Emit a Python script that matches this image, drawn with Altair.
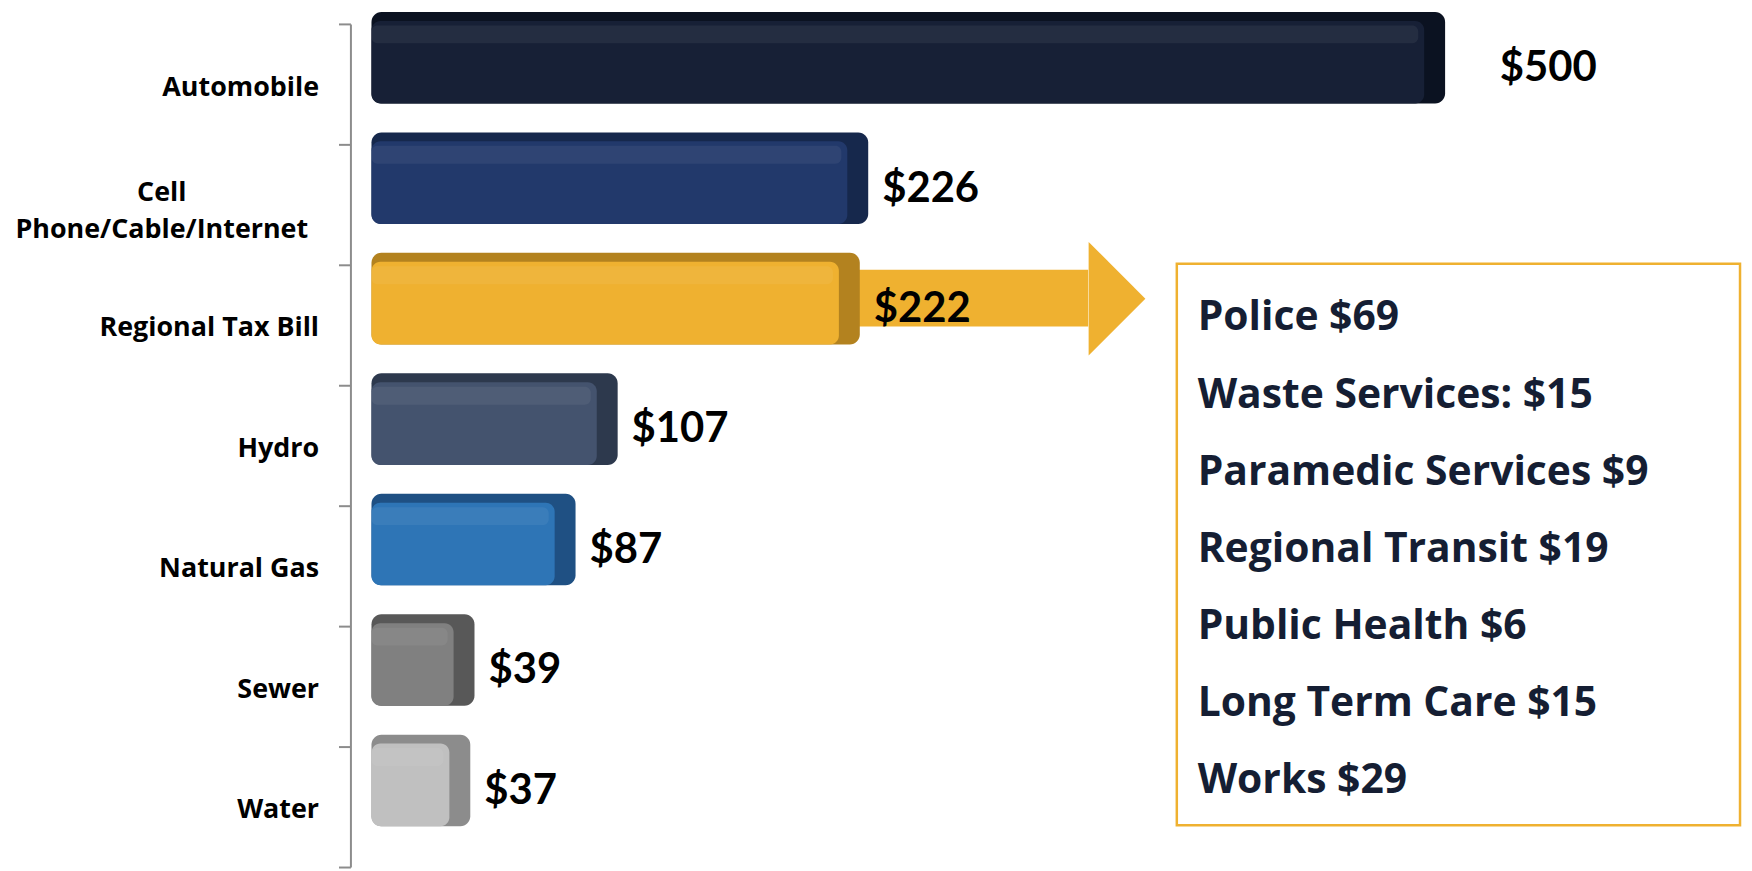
import altair as alt
import pandas as pd

# ---- data ----
categories = ["Automobile", "Cell Phone/Cable/Internet", "Regional Tax Bill",
              "Hydro", "Natural Gas", "Sewer", "Water"]
values = [500, 226, 222, 107, 87, 39, 37]

breakdown_names = ["Police", "Waste Services:", "Paramedic Services",
                   "Regional Transit", "Public Health", "Long Term Care", "Works"]
breakdown_amounts = [69, 15, 9, 19, 6, 15, 29]

# ---- styles ----
front_colors = ["#172036", "#22396B", "#EFB130", "#44536E", "#2E75B6", "#808080", "#C0C0C0"]
side_colors = ["#0B1221", "#16284C", "#B3821F", "#2D394D", "#1F5083", "#585858", "#8C8C8C"]
GOLD = "#EFB130"
TEXT_DARK = "#151E33"
AXIS_GRAY = "#8C8C8C"

df = pd.DataFrame({
    "category": categories,
    "value": values,
    "start": [0] * len(categories),
    "front": front_colors,
    "side": side_colors,
})
items = [f"{n} ${a}" for n, a in zip(breakdown_names, breakdown_amounts)]
bdf = pd.DataFrame({"item": items})

xs = alt.Scale(domain=[-10, 650], nice=False, zero=False)
ys = alt.Scale(domain=categories, paddingInner=0, paddingOuter=0)

CELL = "Cell Phone/Cable/Internet"
is_cell = f"datum.value == '{CELL}'"
y_axis = alt.Axis(
    title=None, grid=False,
    labelFont="Open Sans", labelFontWeight="bold", labelFontSize=27, labelColor="black",
    labelLimit=500, labelLineHeight=37,
    labelExpr=f"{is_cell} ? ['Cell', 'Phone/Cable/Internet'] : datum.label",
    labelAlign={"condition": {"test": is_cell, "value": "center"}, "value": "right"},
    labelPadding={"condition": {"test": is_cell, "value": 178}, "value": 20},
    labelOffset={"condition": {"test": is_cell, "value": -12}, "value": 3},
    tickSize=12, tickWidth=2, tickColor=AXIS_GRAY, tickBand="extent",
    domainColor=AXIS_GRAY, domainWidth=2,
)

def ycat(axis=None):
    return alt.Y("category:N", scale=ys, sort=categories, axis=axis)

base = alt.Chart(df)
reg = base.transform_filter(alt.datum.category == "Regional Tax Bill")

shaft = reg.mark_bar(height=57, yOffset=-27, color=GOLD).encode(
    y=ycat(),
    x=alt.XDatum(150, scale=xs, axis=None),
    x2=alt.X2Datum(340.4),
)

head = reg.mark_point(shape="M-0.5,-1L0.5,0L-0.5,1Z", size=12996, filled=True,
                      color=GOLD, opacity=1, strokeWidth=0, yOffset=-26.5).encode(
    y=ycat(),
    x=alt.XDatum(354.1, scale=xs, axis=None),
)

side = base.mark_bar(height=92, yOffset=-26.5, x2Offset=21, cornerRadius=10).encode(
    y=ycat(y_axis),
    x=alt.X("start:Q", scale=xs, axis=None),
    x2="value:Q",
    color=alt.Color("side:N", scale=None, legend=None),
)

front = base.mark_bar(height=83, yOffset=-22, cornerRadius=9).encode(
    y=ycat(),
    x=alt.X("start:Q", scale=xs, axis=None),
    x2="value:Q",
    color=alt.Color("front:N", scale=None, legend=None),
)

gloss = base.mark_bar(height=18, yOffset=-50, x2Offset=-6, cornerRadius=6,
                      color="white", opacity=0.06).encode(
    y=ycat(),
    x=alt.X("start:Q", scale=xs, axis=None),
    x2="value:Q",
)

label_style = dict(align="left", baseline="alphabetic", font="Lato", fontWeight="bold",
                   fontSize=42, color="black", dy=-3)
labels = base.transform_filter(alt.datum.category != "Automobile").mark_text(dx=35, **label_style).encode(
    y=ycat(), x=alt.X("value:Q", scale=xs, axis=None),
    text=alt.Text("value:Q", format="$,.0f"),
)
labels_auto = base.transform_filter(alt.datum.category == "Automobile").mark_text(dx=76, **label_style).encode(
    y=ycat(), x=alt.X("value:Q", scale=xs, axis=None),
    text=alt.Text("value:Q", format="$,.0f"),
)

box = reg.mark_rect(fill="white", fillOpacity=0, stroke=GOLD, strokeWidth=2.5).encode(
    x=alt.XDatum(382.5, scale=xs, axis=None),
    x2=alt.X2Datum(650),
    y=alt.value(241), y2=alt.value(805),
)

box_text = alt.Chart(bdf).mark_text(align="left", baseline="alphabetic", font="Open Sans",
                                     fontWeight="bold", fontSize=41, color=TEXT_DARK).encode(
    x=alt.XDatum(392.4, scale=xs, axis=None),
    y=alt.Y("item:N", sort=None,
            scale=alt.Scale(type="point", domain=items, range=[308, 773], padding=0),
            axis=None),
    text="item:N",
)

chart = alt.layer(shaft, side, front, gloss, labels, labels_auto, head, box, box_text).resolve_scale(
    y="independent"
).properties(
    width=1396, height=847,
    padding={"left": 344, "top": 14, "right": 4, "bottom": 0},
    autosize=alt.AutoSizeParams(type="none"),
).configure_view(strokeWidth=0)

chart.save("out.html", embed_options={"renderer": "svg", "actions": False})
